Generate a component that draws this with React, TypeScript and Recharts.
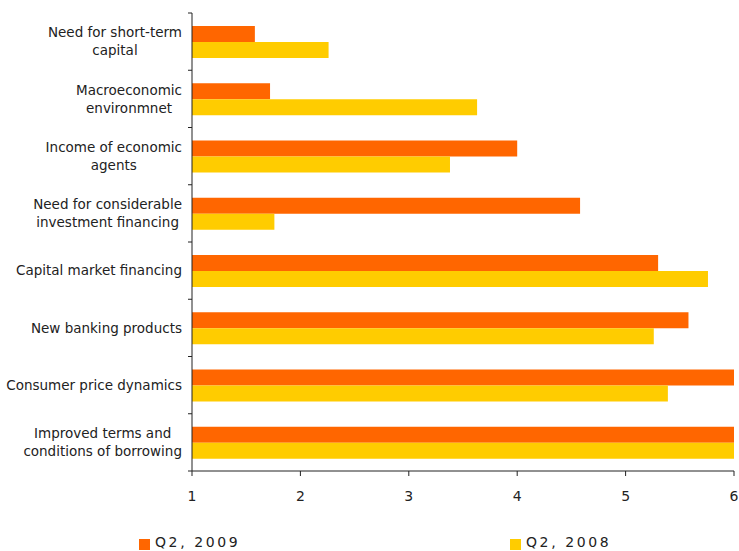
import { Bar, BarChart, XAxis, YAxis } from "recharts";

const categories = [
  "Need for short-term\ncapital",
  "Macroeconomic\nenvironmnet",
  "Income of economic\nagents",
  "Need for considerable\ninvestment financing",
  "Capital market financing",
  "New banking products",
  "Consumer price dynamics",
  "Improved terms and\nconditions of borrowing",
];
const q2_2009 = [1.58, 1.72, 4.0, 4.58, 5.3, 5.58, 6, 6];
const q2_2008 = [2.26, 3.63, 3.38, 1.76, 5.76, 5.26, 5.39, 6];
const xTicks = [1, 2, 3, 4, 5, 6];

const data = categories.map((name, i) => ({ name, q2009: q2_2009[i], q2008: q2_2008[i] }));

const W = 739;
const H = 551;
const TOP = 13;
const X_AXIS_H = 80;
const Y_AXIS_W = 192;
const TICK_MARGIN = 10;
const BAND = (H - TOP - X_AXIS_H) / categories.length;

const ORANGE = "#FF6600";
const YELLOW = "#FFCC00";
const TEXT = "#222";
const FONT = "'DejaVu Sans', Verdana, sans-serif";
const LABEL_SIZE = 13.5;
const LINE_H = 18;

let ctx: CanvasRenderingContext2D | null = null;
function textWidth(s: string) {
  if (!ctx) {
    ctx = document.createElement("canvas").getContext("2d");
    if (ctx) ctx.font = `${LABEL_SIZE}px 'DejaVu Sans'`;
  }
  return ctx ? ctx.measureText(s).width : s.length * 7.5;
}

// category labels centred line by line, plus the Excel-style ticks between categories
function CategoryTick(props: any) {
  const { x, y, payload, index } = props;
  const lines: string[] = String(payload.value).split("\n");
  const w = Math.max(...lines.map(textWidth));
  const cx = x - w / 2;
  const y0 = y - ((lines.length - 1) * LINE_H) / 2;
  const axisX = x + TICK_MARGIN;
  const edges = index === categories.length - 1 ? [y - BAND / 2, y + BAND / 2] : [y - BAND / 2];
  return (
    <g>
      {edges.map((ey, i) => (
        <line key={i} x1={axisX - 4} x2={axisX} y1={ey} y2={ey} stroke={TEXT} />
      ))}
      <text textAnchor="middle" fill={TEXT} fontSize={LABEL_SIZE} fontFamily={FONT}>
        {lines.map((l, i) => (
          <tspan key={i} x={cx} y={y0 + i * LINE_H} dy="0.36em">
            {l}
          </tspan>
        ))}
      </text>
    </g>
  );
}

function LegendItem({ color, label, left }: { color: string; label: string; left: number }) {
  return (
    <div style={{ position: "absolute", left, top: 533, display: "flex", alignItems: "center" }}>
      <span style={{ width: 11, height: 11, background: color, marginRight: 5, marginTop: 6 }} />
      <span style={{ fontFamily: FONT, fontSize: 14, letterSpacing: 2.6, color: TEXT }}>{label}</span>
    </div>
  );
}

export default function App() {
  return (
    <div style={{ position: "absolute", left: 0, top: 0, width: W, height: H, background: "#fff" }}>
      <BarChart
        width={W}
        height={H}
        layout="vertical"
        data={data}
        margin={{ top: TOP, right: 5, bottom: 0, left: 0 }}
        barGap={0}
        barSize={16}
      >
        <YAxis
          type="category"
          dataKey="name"
          width={Y_AXIS_W}
          axisLine={{ stroke: TEXT }}
          tickLine={false}
          tickSize={0}
          tickMargin={TICK_MARGIN}
          tick={<CategoryTick />}
          interval={0}
        />
        <XAxis
          type="number"
          domain={[1, 6]}
          ticks={xTicks}
          height={X_AXIS_H}
          tickSize={5}
          tickMargin={15}
          stroke={TEXT}
          tick={{ fill: TEXT, fontSize: 14, fontFamily: FONT }}
          allowDataOverflow
        />
        <Bar dataKey="q2009" fill={ORANGE} isAnimationActive={false} />
        <Bar dataKey="q2008" fill={YELLOW} isAnimationActive={false} />
      </BarChart>
      <LegendItem color={ORANGE} label="Q2, 2009" left={139} />
      <LegendItem color={YELLOW} label="Q2, 2008" left={510} />
    </div>
  );
}
